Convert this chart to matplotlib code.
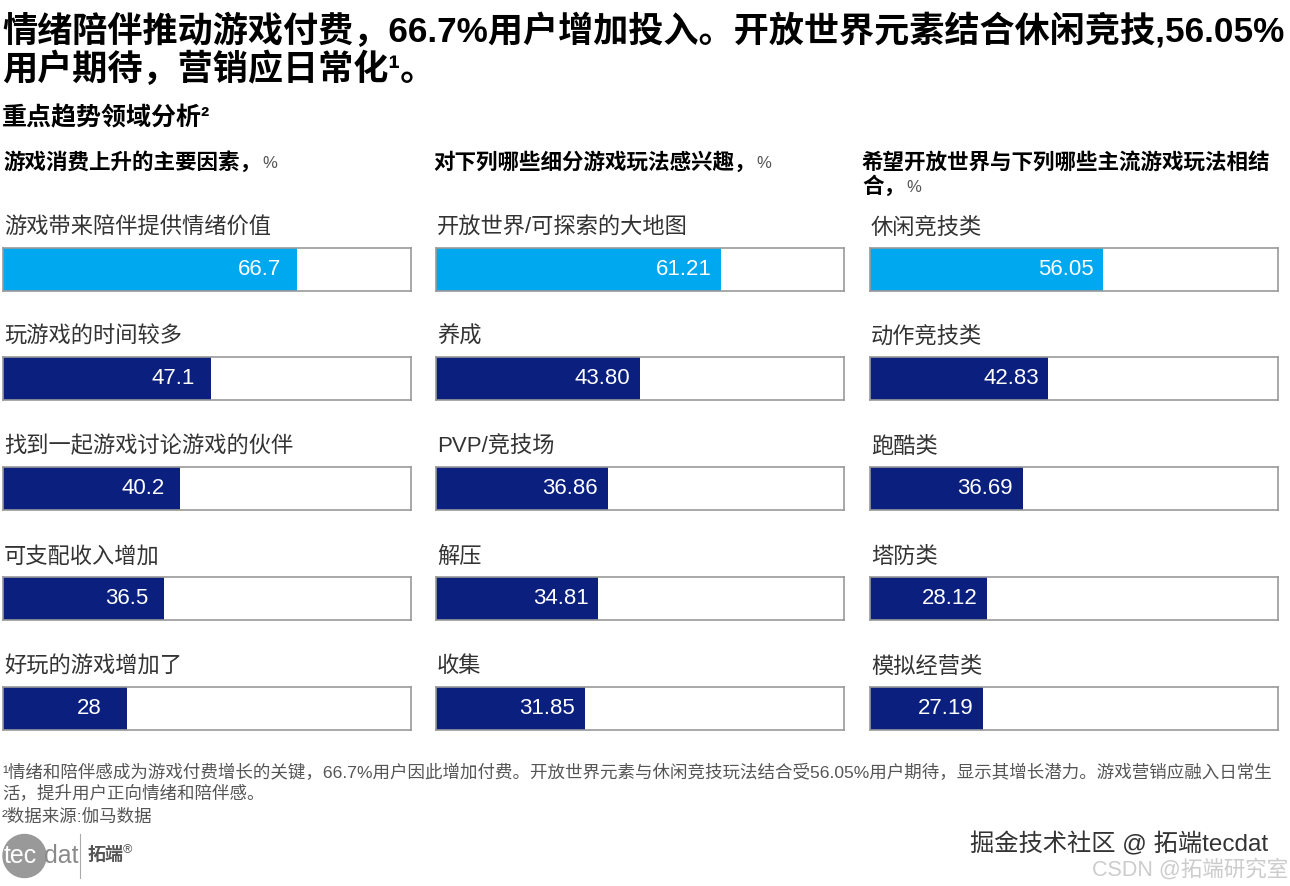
import matplotlib.pyplot as plt
from matplotlib.patches import Circle

plt.rcParams['font.family'] = ['Liberation Sans', 'Noto Sans CJK SC', 'DejaVu Sans']

# 数据
titulos = ['游戏消费上升的主要因素，', '对下列哪些细分游戏玩法感兴趣，', '希望开放世界与下列哪些主流游戏玩法相结\n合，']
cat1 = ['游戏带来陪伴提供情绪价值', '玩游戏的时间较多', '找到一起游戏讨论游戏的伙伴', '可支配收入增加', '好玩的游戏增加了']
val1 = [66.7, 47.1, 40.2, 36.5, 28]
cat2 = ['开放世界/可探索的大地图', '养成', 'PVP/竞技场', '解压', '收集']
val2 = [61.21, 43.80, 36.86, 34.81, 31.85]
cat3 = ['休闲竞技类', '动作竞技类', '跑酷类', '塔防类', '模拟经营类']
val3 = [56.05, 42.83, 36.69, 28.12, 27.19]

W, H = 1290, 886
fig = plt.figure(figsize=(W / 100, H / 100), dpi=100)

def fx(x):
    return x / W

def fy(y):
    return 1 - y / H

azul_claro = '#00A8F0'
azul_escuro = '#0A1F7E'

# titulo
fig.text(fx(2), fy(31), '情绪陪伴推动游戏付费，66.7%用户增加投入。开放世界元素结合休闲竞技,56.05%',
         fontsize=25.3, fontweight='bold', va='center', ha='left', color='black')
fig.text(fx(2), fy(69), '用户期待，营销应日常化¹。', fontsize=25.3, fontweight='bold',
         va='center', ha='left', color='black')
fig.text(fx(2), fy(118), '重点趋势领域分析²', fontsize=18, fontweight='bold',
         va='center', ha='left', color='black')

painel_x = [3, 436, 870]
cab_x = [3, 433, 862]
largura = 408
limites = [92.5, 87.5, 98]
formatos = ['{:g}', '{:.2f}', '{:.2f}']
cats = [cat1, cat2, cat3]
vals = [val1, val2, val3]
topos = [248, 357, 467, 577, 687]

r = fig.canvas.get_renderer()
for p in range(3):
    x0 = painel_x[p]
    # cabeçalho
    linhas = titulos[p].split('\n')
    for k, ln in enumerate(linhas):
        t = fig.text(fx(cab_x[p]), fy(163 + k * 24), ln, fontsize=15.5, fontweight='bold',
                     va='center', ha='left', color='black')
    bb = t.get_window_extent(renderer=r)
    fig.text(bb.x1 / W + 0.001, fy(163 + (len(linhas) - 1) * 24), '%', fontsize=12,
             va='center', ha='left', color='#555555')

    for i in range(5):
        y_bar = topos[i]
        fig.text(fx(x0 + 1), fy(y_bar - 20), cats[p][i], fontsize=16, va='center', ha='left',
                 color='#333333')
        ax = fig.add_axes([fx(x0), fy(y_bar + 43), fx(largura), 43 / H])
        cor = azul_claro if i == 0 else azul_escuro
        ax.barh([0], [vals[p][i]], height=1, color=cor, left=0)
        ax.set_xlim(0, limites[p])
        ax.set_ylim(-0.5, 0.5)
        ax.set_xticks([])
        ax.set_yticks([])
        for s in ax.spines.values():
            s.set_color('#999999')
            s.set_linewidth(1.2)
        ax.annotate(formatos[p].format(vals[p][i]), xy=(vals[p][i], 0), xytext=(-27, 0),
                    textcoords='offset points', ha='center', va='center',
                    color='white', fontsize=16)

# notas
fig.text(fx(2), fy(772), '¹情绪和陪伴感成为游戏付费增长的关键，66.7%用户因此增加付费。开放世界元素与休闲竞技玩法结合受56.05%用户期待，显示其增长潜力。游戏营销应融入日常生',
         fontsize=12.6, va='center', ha='left', color='#555555')
fig.text(fx(2), fy(793), '活，提升用户正向情绪和陪伴感。', fontsize=12.6, va='center', ha='left', color='#555555')
fig.text(fx(2), fy(817), '²数据来源:伽马数据', fontsize=12.6, va='center', ha='left', color='#555555')

# logo
circ = Circle((0.245, (H - 856) / 100), 0.215, transform=fig.dpi_scale_trans, color='#999999')
fig.patches.append(circ)
fig.text(fx(4), fy(856), 'tec', fontsize=18, va='center', ha='left', color='white')
fig.text(fx(44), fy(856), 'dat', fontsize=18, va='center', ha='left', color='#8a8a8a')
fig.lines.append(plt.Line2D([fx(80), fx(80)], [fy(834), fy(878)], transform=fig.transFigure,
                            color='#aaaaaa', linewidth=0.8))
fig.text(fx(88), fy(855), '拓端', fontsize=13, fontweight='bold', va='center', ha='left', color='#555555')
fig.text(fx(123), fy(850), '®', fontsize=9, va='center', ha='left', color='#555555')

# marca d'água
fig.text(fx(1268), fy(844), '掘金技术社区 @ 拓端tecdat', fontsize=17.5, va='center', ha='right', color='#333333')
fig.text(fx(1288), fy(870), 'CSDN @拓端研究室', fontsize=15.5, va='center', ha='right', color='#cccccc')

fig.savefig('out.png', dpi=100)
